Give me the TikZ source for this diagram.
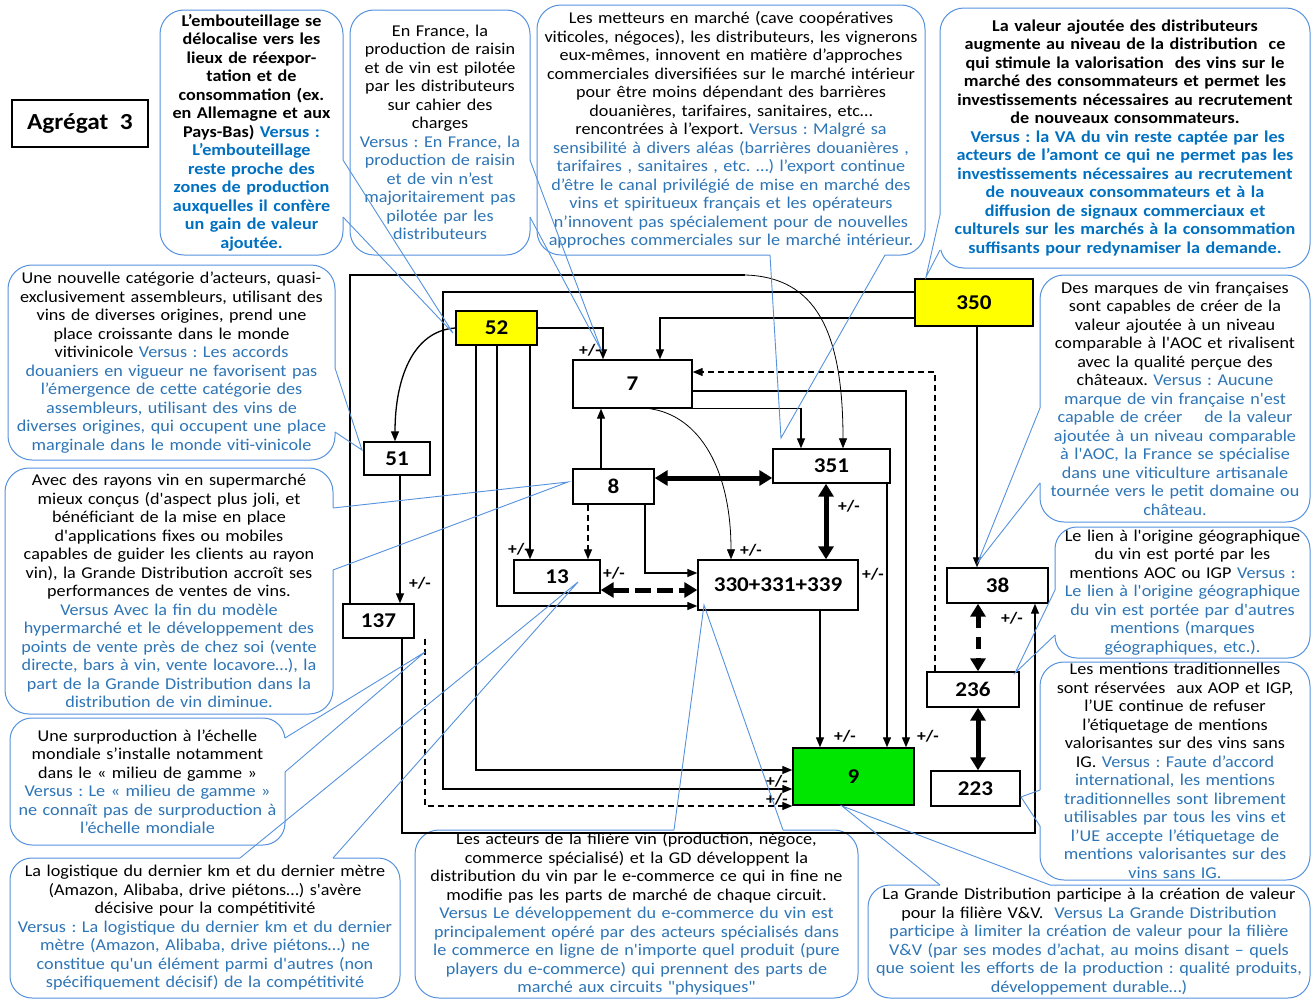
\documentclass[tikz,border=0pt]{standalone}
\usepackage{fontspec}
\setmainfont{Carlito}[FakeStretch=1.1, Ligatures=TeXOff]
\usetikzlibrary{arrows.meta}
\definecolor{vs}{RGB}{46,117,182}
\definecolor{vsb}{RGB}{0,112,192}
\definecolor{cb}{RGB}{86,146,222}
\definecolor{gr}{RGB}{0,230,0}
\definecolor{yl}{RGB}{255,255,0}
\tikzset{
  num/.style={draw, line width=1.4pt, fill=white, inner sep=0pt,
    font=\fontsize{21}{24}\selectfont\bfseries},
  call/.style={draw=cb, line width=1pt, rounded corners=24pt, fill=white,
    align=center, inner xsep=0pt, inner ysep=0pt,
    font=\fontsize{16.5}{18.5}\selectfont},
  tail/.style={cb, line width=0.9pt},
  plain/.style={line width=1.3pt},
  conn/.style={line width=1.3pt, -{Triangle[length=10pt,width=8pt]}},
  thinconn/.style={line width=0.8pt, -{Triangle[length=10pt,width=8pt]}},
  dconn/.style={conn, dash pattern=on 6pt off 4pt},
  dbl/.style={line width=5pt, {Triangle[length=13pt,width=15pt]}-{Triangle[length=13pt,width=15pt]}},
  pm/.style={font=\fontsize{16}{16}\selectfont\bfseries, inner sep=0pt},
}
% wedge of a callout: erase the base on the border, then draw both sides
\newcommand\calltail[3]{%
  \draw[white, line width=2.2pt] #1 -- #2;
  \draw[tail] #1 -- #3 -- #2;}
\frenchspacing

\begin{document}
\begin{tikzpicture}[x=1pt,y=-1pt]
\fill[white] (0,0) rectangle (1315,1001);
\useasboundingbox (0,0) rectangle (1315,1001);

% ---------- callouts ----------
\node[call, minimum width=183pt, minimum height=245pt, text width=183pt,
  font=\fontsize{16.5}{18.5}\selectfont\bfseries] (c1) at (251.5,132.5)
 {L’embouteillage se\\ délocalise vers les\\ lieux de réexpor-\\ tation et de\\
  consommation (ex.\\ en Allemagne et aux\\ Pays-Bas) \color{vsb}Versus :\\
  L’embouteillage\\ reste proche des\\ zones de production\\ auxquelles il confère\\
  un gain de valeur\\ ajoutée.};

\node[call, minimum width=180pt, minimum height=245pt, text width=180pt] (c2) at (440,132.5)
 {En France, la\\ production de raisin\\ et de vin est pilotée\\ par les distributeurs\\
  sur cahier des\\ charges\\ \color{vs}Versus : En France, la\\ production de raisin\\
  et de vin n’est\\ majoritairement pas\\ pilotée par les\\ distributeurs};

\node[call, minimum width=388pt, minimum height=250pt, text width=388pt] (c3) at (731,130)
 {Les metteurs en marché (cave coopératives\\
  viticoles, négoces), les distributeurs, les vignerons\\
  eux-mêmes, innovent en matière d’approches\\
  commerciales diversifiées sur le marché intérieur\\
  pour être moins dépendant des barrières\\
  douanières, tarifaires, sanitaires, etc…\\
  rencontrées à l’export. {\color{vs}Versus : Malgré sa}\\
  \color{vs}sensibilité à divers aléas (barrières douanières ,\\
  tarifaires , sanitaires , etc. …) l’export continue\\
  d’être le canal privilégié de mise en marché des\\
  vins et spiritueux français et les opérateurs\\
  n’innovent pas spécialement pour de nouvelles\\
  approches commerciales sur le marché intérieur.};

\node[call, minimum width=370pt, minimum height=260pt, text width=370pt,
  font=\fontsize{16.5}{18.5}\selectfont\bfseries] (c4) at (1125,138)
 {La valeur ajoutée des distributeurs\\
  augmente au niveau de la distribution\ \ ce\\
  qui stimule la valorisation\ \ des vins sur le\\
  marché des consommateurs et permet les\\
  investissements nécessaires au recrutement\\
  de nouveaux consommateurs.\\
  \color{vsb}\ Versus : la VA du vin reste captée par les\\
  acteurs de l’amont ce qui ne permet pas les\\
  investissements nécessaires au recrutement\\
  de nouveaux consommateurs et à la\\
  diffusion de signaux commerciaux et\\
  culturels sur les marchés à la consommation\\
  suffisants pour redynamiser la demande.};

\node[call, minimum width=327pt, minimum height=195pt, text width=327pt] (c5) at (171.5,362.5)
 {Une nouvelle catégorie d’acteurs, quasi-\\
  exclusivement assembleurs, utilisant des\\
  vins de diverses origines, prend une\\
  place croissante dans le monde\\
  vitivinicole \color{vs}Versus : Les accords\\
  douaniers en vigueur ne favorisent pas\\
  l’émergence de cette catégorie des\\
  assembleurs, utilisant des vins de\\
  diverses origines, qui occupent une place\\
  marginale dans le monde viti-vinicole};

\node[call, minimum width=328pt, minimum height=246pt, text width=328pt] (c6) at (169,591)
 {Avec des rayons vin en supermarché\\
  mieux conçus (d'aspect plus joli, et\\
  bénéficiant de la mise en place\\
  d'applications fixes ou mobiles\\
  capables de guider les clients au rayon\\
  vin), la Grande Distribution accroît ses\\
  performances de ventes de vins.\\
  \color{vs}Versus Avec la fin du modèle\\
  hypermarché et le développement des\\
  points de vente près de chez soi (vente\\
  directe, bars à vin, vente locavore…), la\\
  part de la Grande Distribution dans la\\
  distribution de vin diminue.};

\node[call, minimum width=275pt, minimum height=127pt, text width=275pt, rounded corners=22pt] (c7) at (147.5,781.5)
 {Une surproduction à l’échelle\\
  mondiale s’installe notamment\\
  dans le « milieu de gamme »\\
  \color{vs}Versus : Le « milieu de gamme »\\
  ne connaît pas de surproduction à\\
  l’échelle mondiale};

\node[call, minimum width=390pt, minimum height=140pt, text width=390pt, rounded corners=22pt] (c8) at (205,928)
 {La logistique du dernier km et du dernier mètre\\
  (Amazon, Alibaba, drive piétons…) s'avère\\
  décisive pour la compétitivité\\
  \color{vs}Versus : La logistique du dernier km et du dernier\\
  mètre (Amazon, Alibaba, drive piétons…) ne\\
  constitue qu'un élément parmi d'autres (non\\
  spécifiquement décisif) de la compétitivité};

\node[call, minimum width=443pt, minimum height=168pt, text width=443pt] (c9) at (636.5,914)
 {Les acteurs de la filière vin (production, négoce,\\
  commerce spécialisé) et la GD développent la\\
  distribution du vin par le e-commerce ce qui in fine ne\\
  modifie pas les parts de marché de chaque circuit.\\
  \color{vs}Versus Le développement du e-commerce du vin est\\
  principalement opéré par des acteurs spécialisés dans\\
  le commerce en ligne de n'importe quel produit (pure\\
  players du e-commerce) qui prennent des parts de\\
  marché aux circuits "physiques"};

\node[call, minimum width=270pt, minimum height=247pt, text width=270pt] (c10) at (1175,398.5)
 {Des marques de vin françaises\\
  sont capables de créer de la\\
  valeur ajoutée à un niveau\\
  comparable à l'AOC et rivalisent\\
  avec la qualité perçue des\\
  châteaux. \color{vs}Versus : Aucune\\
  marque de vin française n'est\\
  capable de créer\ \ \ \ de la valeur\\
  ajoutée à un niveau comparable\\
  à l'AOC, la France se spécialise\\
  dans une viticulture artisanale\\
  tournée vers le petit domaine ou\\
  château.};

\node[call, minimum width=255pt, minimum height=131pt, text width=255pt, rounded corners=22pt] (c11) at (1182.5,592.5)
 {Le lien à l'origine géographique\\
  du vin est porté par les\\
  mentions AOC ou IGP \color{vs}Versus :\\
  Le lien à l'origine géographique\\
  du vin est portée par d'autres\\
  mentions (marques\\
  géographiques, etc.).};

\node[call, minimum width=270pt, minimum height=218pt, text width=270pt] (c12) at (1175,771)
 {Les mentions traditionnelles\\
  sont réservées\ \ aux AOP et IGP,\\
  l’UE continue de refuser\\
  l’étiquetage de mentions\\
  valorisantes sur des vins sans\\
  IG. \color{vs}Versus : Faute d’accord\\
  international, les mentions\\
  traditionnelles sont librement\\
  utilisables par tous les vins et\\
  l’UE accepte l’étiquetage de\\
  mentions valorisantes sur des\\
  vins sans IG.};

\node[call, minimum width=442pt, minimum height=113pt, text width=442pt, rounded corners=22pt] (c13) at (1089,941.5)
 {La Grande Distribution participe à la création de valeur\\
  pour la filière V\&V.\ \ \color{vs}Versus La Grande Distribution\\
  participe à limiter la création de valeur pour la filière\\
  V\&V (par ses modes d’achat, au moins disant – quels\\
  que soient les efforts de la production : qualité produits,\\
  développement durable…)};

% ---------- title ----------
\node[draw, line width=1.5pt, minimum width=136pt, minimum height=47pt, inner sep=0pt,
  font=\fontsize{23}{26}\selectfont\bfseries] (agg) at (80,123.5) {Agrégat\enspace3};

% ---------- variable boxes ----------
\node[num, fill=yl, minimum width=81pt, minimum height=34pt] (n52) at (496.5,328) {52};
\node[num, fill=yl, minimum width=118pt, minimum height=47pt] (n350) at (974,302.5) {350};
\node[num, minimum width=119pt, minimum height=48pt] (n7) at (632.5,384) {7};
\node[num, minimum width=66pt, minimum height=33pt] (n51) at (397,458.5) {51};
\node[num, minimum width=81pt, minimum height=35pt] (n8) at (613.5,486.5) {8};
\node[num, minimum width=117pt, minimum height=34pt] (n351) at (831.5,466) {351};
\node[num, minimum width=86pt, minimum height=33pt] (n13) at (557,576.5) {13};
\node[num, minimum width=160pt, minimum height=50pt] (n330) at (778,585) {330+331+339};
\node[num, minimum width=71pt, minimum height=34pt] (n137) at (378.5,621) {137};
\node[num, minimum width=101pt, minimum height=35pt] (n38) at (997.5,585.5) {38};
\node[num, minimum width=92pt, minimum height=35pt] (n236) at (973,689.5) {236};
\node[num, minimum width=89pt, minimum height=35pt] (n223) at (975.5,788.5) {223};
\node[num, fill=gr, minimum width=121pt, minimum height=57pt] (n9) at (853.5,776.5) {9};

% ---------- signs ----------
\node[pm] (s1) at (590,350) {+/-};
\node[pm] (s2) at (519,549) {+/-};
\node[pm] (s3) at (614,573) {+/-};
\node[pm] (s4) at (751,550) {+/-};
\node[pm] (s5) at (849,506) {+/-};
\node[pm] (s6) at (873,574) {+/-};
\node[pm] (s7) at (420,583) {+/-};
\node[pm] (s8) at (845,736) {+/-};
\node[pm] (s9) at (928,736) {+/-};
\node[pm] (s10) at (777,781) {+/-};
\node[pm] (s11) at (777,799) {+/-};
\node[pm] (s12) at (1012,618) {+/-};

% ---------- links ----------
% outer loop from 137 to 351
\draw[plain] (n137.north -| 350,0) -- (350,275) -- (745,275);
\draw[thinconn] (745,275) .. controls (815,277) and (843,330) .. (843,0 |- n351.north);
% from 350
\draw[conn] (n350.west |- 0,292) -- (443,292) -- (443,789) -- (n9.west |- 0,789);
\draw[conn] (n350.west |- 0,318) -- (660,318) -- (660,0 |- n7.north);
\draw[conn] (977,0 |- n350.south) -- (977,0 |- n38.north);
% from 52
\draw[conn] (n52.west) .. controls (412,331) and (395,380) .. (395,0 |- n51.north);
\draw[conn] (n52.east) -- (603,328) -- (603,0 |- n7.north);
\draw[conn] (476,0 |- n52.south) -- (476,770) -- (n9.west |- 0,770);
\draw[conn] (497,0 |- n52.south) -- (497,606) -- (n330.west |- 0,606);
\draw[conn] (530,0 |- n52.south) -- (530,0 |- n13.north);
% from 7
\draw[conn] (n7.east |- 0,391) -- (906,391) -- (906,0 |- n9.north);
\draw[conn] (n7.south east) -- (801,0 |- n7.south) -- (801,0 |- n351.north);
\draw[thinconn] (650,0 |- n7.south) .. controls (700,416) and (731,470) .. (731,0 |- n330.north);
% from 8
\draw[conn] (601,0 |- n8.north) -- (601,0 |- n7.south);
\draw[dbl] (n8.east |- 0,478) -- (n351.west |- 0,478);
\draw[dconn] (588,0 |- n8.south) -- (588,0 |- n13.north);
\draw[conn] (645,0 |- n8.south) -- (645,573) -- (n330.west |- 0,573);
% from 351 and 330
\draw[dbl] (826,0 |- n351.south) -- (826,0 |- n330.north);
\draw[conn] (887,0 |- n351.south) -- (887,0 |- n9.north);
\draw[dbl, dash pattern=on 16pt off 6pt] (n13.east |- 0,590) -- (n330.west |- 0,590);
\draw[conn] (820,0 |- n330.south) -- (820,0 |- n9.north);
% right column
\draw[dconn] (935,0 |- n236.north) -- (935,372) -- (n7.east |- 0,372);
\draw[dbl, dash pattern=on 12pt off 9pt] (978,0 |- n38.south) -- (978,0 |- n236.north);
\draw[dbl] (978,0 |- n236.south) -- (978,0 |- n223.north);
% from 137 and 51
\draw[conn] (402,0 |- n137.south) -- (402,833) -- (1035,833) -- (1035,0 |- n38.south);
\draw[dconn] (425,0 |- n137.south) -- (425,806) -- (n9.west |- 0,806);
\draw[conn] (400,0 |- n51.south) -- (400,0 |- n137.north);

% ---------- callout wedges ----------
\calltail{(343,160)}{(343,217)}{(453,333)}
\calltail{(530,160)}{(530,217)}{(602,352)}
\calltail{(770,255)}{(885,255)}{(781,438)}
\calltail{(940,215)}{(940,250)}{(926,277)}
\calltail{(335,368)}{(335,432)}{(362,450)}
\calltail{(333,508)}{(333,570)}{(568,482)}
\calltail{(285,738)}{(285,772)}{(425,652)}
\calltail{(240,858)}{(333,858)}{(578,582)}
\calltail{(674,830)}{(783,830)}{(704,605)}
\calltail{(1040,408)}{(1040,483)}{(978,562)}
\calltail{(1055,590)}{(1055,635)}{(1015,673)}
\calltail{(1040,790)}{(1040,826)}{(1021,797)}
\calltail{(940,885)}{(1050,885)}{(842,806)}
\end{tikzpicture}
\end{document}
